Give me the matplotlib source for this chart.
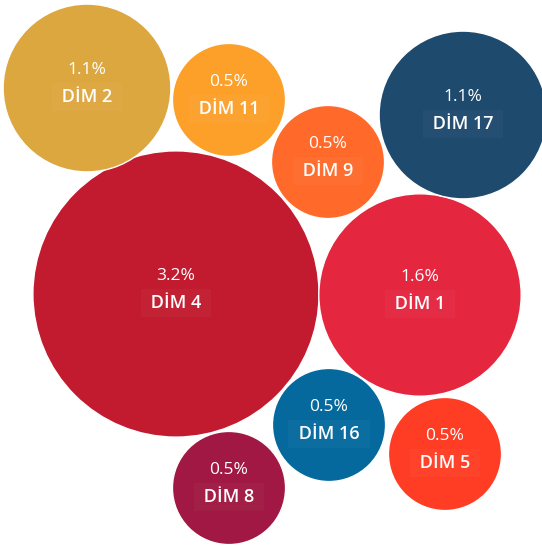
import matplotlib.pyplot as plt
from matplotlib.patches import Circle
import numpy as np

plt.rcParams['font.family'] = ['Open Sans', 'DejaVu Sans']

# data
labels = ['DİM 4', 'DİM 1', 'DİM 2', 'DİM 17', 'DİM 11', 'DİM 9', 'DİM 16', 'DİM 5', 'DİM 8']
values = [3.2, 1.6, 1.1, 1.1, 0.5, 0.5, 0.5, 0.5, 0.5]
colors = ['#C21B2F', '#E5263F', '#DDA73F', '#1E4A6E', '#FCA02A', '#FF6A2B', '#05699E', '#FF3D24', '#A01843']

# packed layout (centres, pixel units)
cx = [176, 420, 87, 463, 229, 328, 329, 445, 229]
cy = [294, 295, 88, 115, 100, 162, 425, 454, 488]

k = 80  # radius scale: r = k * sqrt(value)

fig = plt.figure(figsize=(5.42, 5.46), dpi=100)
ax = fig.add_axes([0, 0, 1, 1])
ax.set_xlim(0, 542)
ax.set_ylim(546, 0)
ax.set_aspect('equal')
ax.axis('off')

for lab, v, c, x, y in zip(labels, values, colors, cx, cy):
    r = k * np.sqrt(v)
    ax.add_patch(Circle((x, y), r, facecolor=c, edgecolor='white', linewidth=1))
    ax.text(x, y - 18, f'{v:.1f}%', color='white', fontsize=12.5,
            ha='center', va='center')
    ax.text(x, y + 9, ' ' + lab + ' ', color='white', fontsize=13, fontweight='semibold',
            ha='center', va='center',
            bbox=dict(boxstyle='square,pad=0.3', facecolor='white', alpha=0.03,
                      edgecolor='none'))

fig.savefig('out.png', dpi=100)
